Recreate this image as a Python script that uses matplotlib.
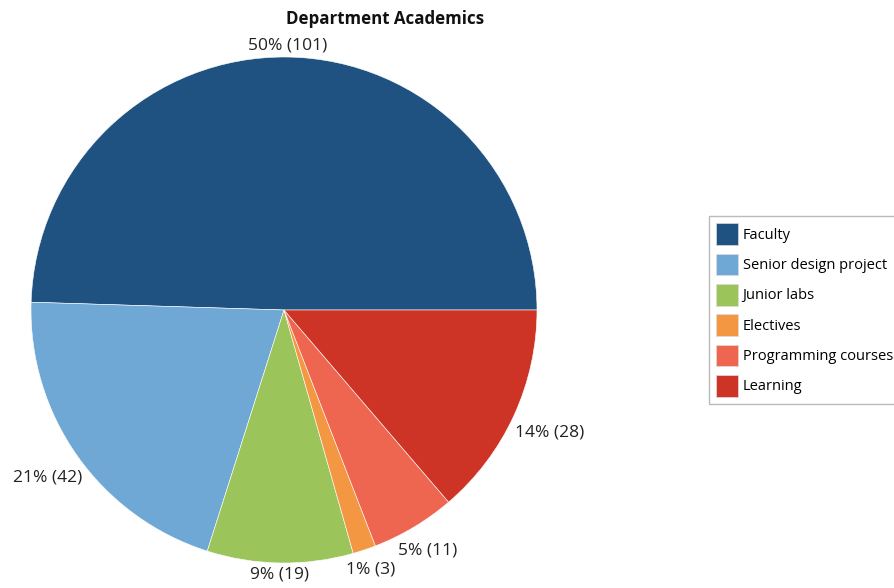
import numpy as np
import matplotlib.pyplot as plt
from matplotlib.patches import Patch

plt.rcParams['font.family'] = ['Open Sans', 'DejaVu Sans']

categories = ['Faculty', 'Senior design project', 'Junior labs', 'Electives',
              'Programming courses', 'Learning']
counts = [101, 42, 19, 3, 11, 28]
colors = ['#1f5281', '#6fa8d5', '#9bc55a', '#f39743', '#ef6650', '#ce3425']

fig = plt.figure(figsize=(8.94, 5.88), dpi=100)
ax = fig.add_axes([31 / 894, 25 / 588, 506 / 894, 506 / 588])

wedges, _ = ax.pie(counts, colors=colors, startangle=0, counterclock=True,
                   radius=1, wedgeprops=dict(edgecolor='white', linewidth=0.4))
ax.set_xlim(-1, 1)
ax.set_ylim(-1, 1)
ax.set_aspect('equal')
ax.axis('off')

# value labels just outside each slice
total = sum(counts)
for w, c in zip(wedges, counts):
    mid = np.deg2rad((w.theta1 + w.theta2) / 2)
    d = 1.045 + 0.12 * abs(np.cos(mid))
    pct = round(100 * c / total)
    ax.text(d * np.cos(mid), d * np.sin(mid), f'{pct}% ({c})',
            ha='center', va='center', fontsize=12.5, color='#222222')

fig.text(385 / 894, 1 - 19 / 588, 'Department Academics', ha='center', va='center',
         fontsize=12.2, fontweight='bold', color='#111111')

handles = [Patch(facecolor=col, edgecolor='#dddddd', linewidth=0.5) for col in colors]
leg = fig.legend(handles, categories, loc='upper left',
                 bbox_to_anchor=(709 / 894, 1 - 216 / 588), fontsize=10.5,
                 handlelength=1.5, handleheight=1.9, handletextpad=0.3,
                 labelspacing=0.6, borderpad=0.5, borderaxespad=0,
                 fancybox=False, framealpha=1)
leg.get_frame().set_edgecolor('#bbbbbb')
leg.get_frame().set_linewidth(1)

fig.savefig('out.png', dpi=100)
